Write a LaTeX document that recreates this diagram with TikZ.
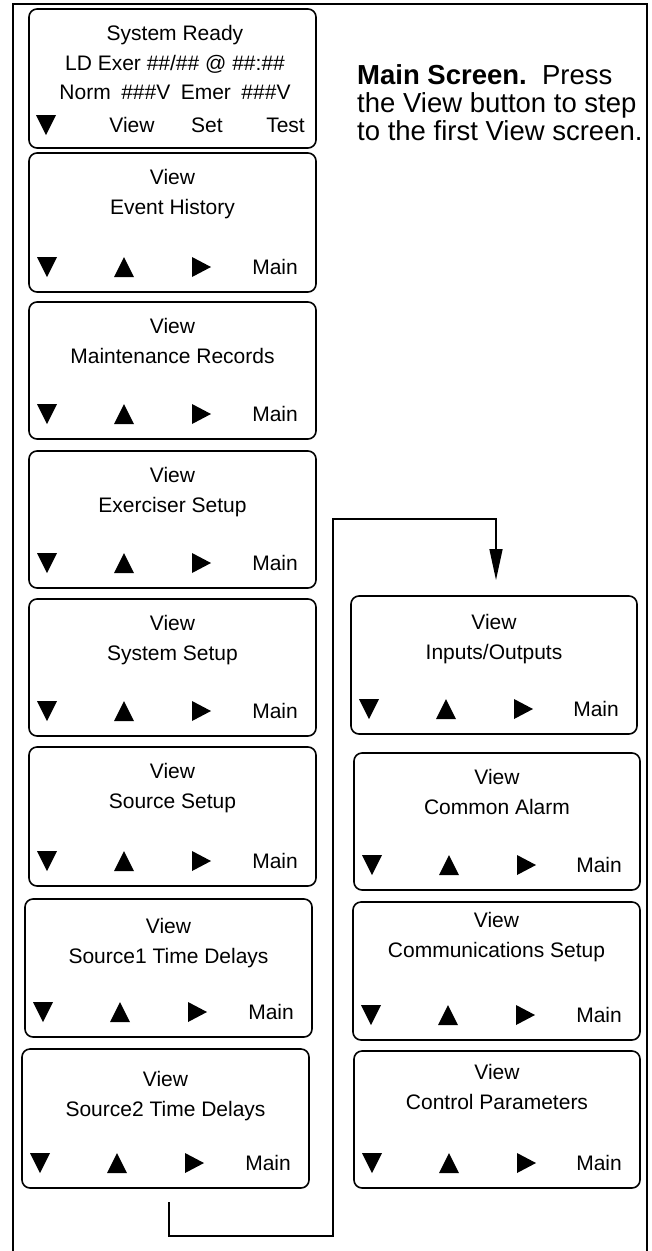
\documentclass[tikz,border=0pt]{standalone}
\usepackage{fontspec}
\setmainfont{Liberation Sans}
\usetikzlibrary{arrows.meta}
\begin{document}
\begin{tikzpicture}[x=1pt, y=-1pt,
    screen/.style={draw, line width=1.6pt, rounded corners=8pt, inner sep=0pt},
    txt/.style={inner sep=0pt, text height=15pt, text depth=0pt, font=\fontsize{21}{25}\selectfont},
    link/.style={line width=1.5pt},
    frame/.style={line width=2.2pt}]
\useasboundingbox (0,0) rectangle (652,1251);
\draw[frame] (13,1251) -- (13,4) -- (647,4) -- (647,1251);
% main screen
\node[screen, minimum width=287pt, minimum height=139pt] (main) at (172.5,78.5) {};
\node[txt] (main-a) at (175,33) {System Ready};
\node[txt] (main-b) at (175,63) {LD Exer \#\#/\#\# @ \#\#:\#\#};
\node[txt] (main-c) at (175,92) {Norm\enspace\#\#\#V\enspace Emer\enspace\#\#\#V};
\fill (36,115) -- (56,115) -- (46,135) -- cycle;
\node[txt] (main-view) at (132,125) {View};
\node[txt] (main-set) at (207,125) {Set};
\node[txt, anchor=east] (main-test) at (305,125) {Test};
\node[anchor=north west, align=left, inner sep=0pt, font=\fontsize{27.5}{28}\selectfont] (note) at (357,64)
    {\textbf{Main Screen.}\ \ Press\\the View button to step\\to the first View screen.};
% view screens
\foreach \n/\l/\t/\r/\b/\v/\ttl in {
    evt/29/153/316/292/24/Event History,
    mnt/29/302/316/439/24/Maintenance Records,
    exr/29/451/316/588/24/Exerciser Setup,
    sys/29/599/316/736/24/System Setup,
    src/29/747/316/886/24/Source Setup,
    srca/25/899/312/1037/27/Source1 Time Delays,
    srcb/22/1049/309/1188/30/Source2 Time Delays,
    io/351/596/637/734/26/{Inputs/Outputs},
    alm/354/753/640/890/24/Common Alarm,
    com/353/902/640/1040/18/Communications Setup,
    ctl/354/1051/640/1188/21/Control Parameters}{
  \node[screen, minimum width={\r-\l}, minimum height={\b-\t}] (\n) at ({(\l+\r)/2},{(\t+\b)/2}) {};
  \node[txt] (\n-v) at ({(\l+\r)/2},{\t+\v}) {View};
  \node[txt] (\n-t) at ({(\l+\r)/2},{\t+\v+30}) {\ttl};
  \node[txt, anchor=east] (\n-m) at ({\r-18},{\b-25}) {Main};
  \fill ({\l+8},{\b-35}) -- ({\l+28},{\b-35}) -- ({\l+18},{\b-15}) -- cycle;
  \fill ({\l+85},{\b-15}) -- ({\l+105},{\b-15}) -- ({\l+95},{\b-35}) -- cycle;
  \fill ({\l+163},{\b-35}) -- ({\l+163},{\b-15}) -- ({\l+182},{\b-25}) -- cycle;
}
% jump to second column
\coordinate (s2out) at (169,1202);
\coordinate (ioin) at (496,580);
\draw[link, -{Triangle[length=31pt, width=13pt]}] (s2out) |- (333,1236) -- (333,519) -| (ioin);
\end{tikzpicture}
\end{document}
